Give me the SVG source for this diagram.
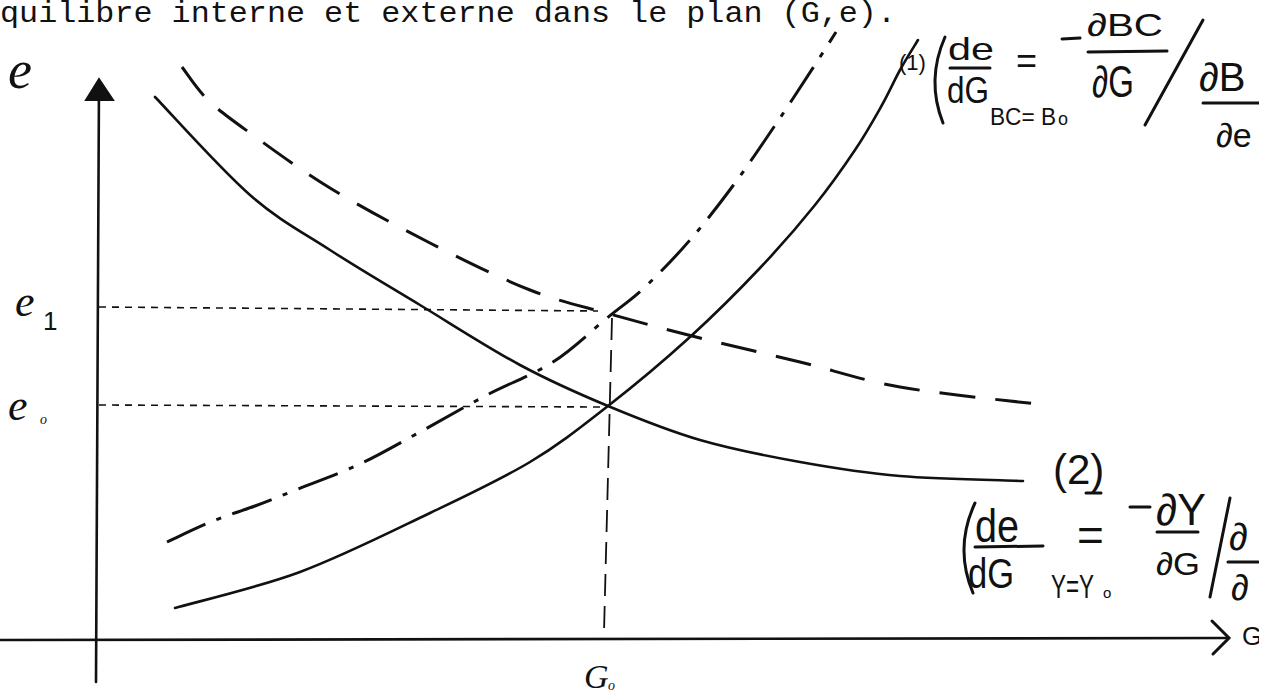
<svg xmlns="http://www.w3.org/2000/svg" width="1271" height="695" viewBox="0 0 1271 695">
<style>
.title{font-family:"Liberation Mono","DejaVu Sans Mono",monospace;font-size:29px;fill:#111}
.hw{font-family:"Liberation Sans","DejaVu Sans",sans-serif;fill:#111}
.it{font-family:"Liberation Serif","DejaVu Serif",serif;font-style:italic;fill:#111}
.axis{stroke:#111;stroke-width:2.6;fill:none;stroke-linecap:round}
.curve{stroke:#111;stroke-width:2.6;fill:none;stroke-linecap:round}
.dashed{stroke:#111;stroke-width:3;fill:none;stroke-dasharray:36 20}
.dashdot{stroke:#111;stroke-width:3;fill:none;stroke-dasharray:42 12 5 12}
.guide{stroke:#111;stroke-width:1.6;fill:none;stroke-dasharray:7 6}
.vguide{stroke:#111;stroke-width:1.8;fill:none;stroke-dasharray:22 10}
.pen{stroke:#111;stroke-width:3;fill:none;stroke-linecap:round}
</style>
<defs><clipPath id="edge"><rect x="0" y="0" width="1259" height="695"/></clipPath></defs>
<rect width="1271" height="695" fill="#fff"/>
<text class="title" x="0" y="22" textLength="896" lengthAdjust="spacingAndGlyphs">quilibre interne et externe dans le plan (G,e).</text>

<g id="axes">
<path class="axis" d="M99,82 L96,682"/>
<path d="M86,100 L99,79 L113,100 Z" fill="#111" stroke="#111" stroke-width="2"/>
<path class="axis" d="M0,640 L1228,638"/>
<path class="pen" d="M1212,621 L1229,638 L1213,654"/>
<text class="it" x="8" y="88" font-size="54">e</text>
<text class="hw" x="1242" y="645" font-size="26" clip-path="url(#edge)">G</text>
</g>

<g id="guides">
<path class="guide" d="M99,307 L598,311"/>
<path class="guide" d="M99,405 L605,407"/>
<path class="vguide" d="M612,318 L604,632"/>
</g>

<g id="labels">
<text class="it" x="15" y="316" font-size="44">e</text>
<text class="hw" x="43" y="330" font-size="26">1</text>
<text class="it" x="8" y="420" font-size="44">e</text>
<text class="it" x="40" y="424" font-size="14">o</text>
<text class="it" x="584" y="688" font-size="34">G</text>
<text class="it" x="608" y="690" font-size="14">o</text>
</g>

<g id="connectors">
<path id="curve-2" class="curve" d="M155,97 C170.8,113.3 220.8,169.5 250,195 C279.2,220.5 301.7,231.7 330,250 C358.3,268.3 388.3,285.8 420,305 C451.7,324.2 488.7,348.2 520,365 C551.3,381.8 578,393.5 608,406 C638,418.5 668,430.7 700,440 C732,449.3 766.7,456 800,462 C833.3,468 862.8,472.8 900,476 C937.2,479.2 1002.5,480.2 1023,481"/>
<path id="curve-1" class="curve" d="M175,608 C195.8,602 257.5,587.8 300,572 C342.5,556.2 391.7,531.3 430,513 C468.3,494.7 500.3,479.8 530,462 C559.7,444.2 581.3,426.8 608,406 C634.7,385.2 664.7,360 690,337 C715.3,314 739.2,290 760,268 C780.8,246 799.2,224.7 815,205 C830.8,185.3 843.8,166.7 855,150 C866.2,133.3 874.5,118.3 882,105 C889.5,91.7 894,80.8 900,70 C906,59.2 915,45 918,40"/>
<path id="curve-dashed" class="dashed" d="M182,67 C186.3,72.5 196.7,89 208,100 C219.3,111 229.7,118.3 250,133 C270.3,147.7 300,169.7 330,188 C360,206.3 396.7,226 430,243 C463.3,260 500,278.2 530,290 C560,301.8 581.7,306 610,314 C638.3,322 668.3,330 700,338 C731.7,346 766.7,353.8 800,362 C833.3,370.2 860.5,380 900,387 C939.5,394 1014.2,401.2 1037,404"/>
<path id="curve-dashdot" class="dashdot" d="M167,542 C174.7,538.5 198.3,527 213,521 C227.7,515 240.8,511.3 255,506 C269.2,500.7 280.5,496 298,489 C315.5,482 339.7,473.5 360,464 C380.3,454.5 399.2,443.3 420,432 C440.8,420.7 462.8,407.7 485,396 C507.2,384.3 532.7,375 553,362 C573.3,349 591.7,330.5 607,318 C622.3,305.5 631.2,300 645,287 C658.8,274 675,257.3 690,240 C705,222.7 720,203.3 735,183 C750,162.7 765.8,139 780,118 C794.2,97 810.7,71.3 820,57 C829.3,42.7 833.3,36.2 836,32"/>
</g>

<g id="formula-1" clip-path="url(#edge)">
<text class="hw" x="899" y="70" font-size="22">(1)</text>
<path class="pen" d="M945,37 Q926,80 943,123"/>
<text class="hw" x="948" y="60" font-size="32" textLength="46" lengthAdjust="spacingAndGlyphs">de</text>
<path class="pen" d="M950,68 L990,68"/>
<text class="hw" x="947" y="103" font-size="36" textLength="42" lengthAdjust="spacingAndGlyphs">dG</text>
<text class="hw" x="990" y="125" font-size="24" textLength="66" lengthAdjust="spacingAndGlyphs">BC= B</text>
<text class="hw" x="1058" y="125" font-size="18">o</text>
<text class="hw" x="1016" y="73" font-size="36">=</text>
<path class="pen" d="M1062,39 L1080,38"/>
<text class="hw" x="1087" y="36" font-size="32" textLength="76" lengthAdjust="spacingAndGlyphs">∂BC</text>
<path class="pen" d="M1088,52 L1167,51"/>
<text class="hw" x="1092" y="97" font-size="44" textLength="42" lengthAdjust="spacingAndGlyphs">∂G</text>
<path class="pen" d="M1203,20 L1145,125"/>
<text class="hw" x="1199" y="91" font-size="40">∂B</text>
<path class="pen" d="M1203,103 L1265,103"/>
<text class="hw" x="1216" y="147" font-size="34">∂e</text>
</g>

<g id="formula-2" clip-path="url(#edge)">
<text class="hw" x="1053" y="484" font-size="42">(2)</text>
<path class="pen" d="M1086,493 L1101,493" stroke-width="2"/>
<path class="pen" d="M975,503 Q954,548 973,593"/>
<text class="hw" x="975" y="542" font-size="46" textLength="44" lengthAdjust="spacingAndGlyphs">de</text>
<path class="pen" d="M975,547 L1043,546"/>
<text class="hw" x="968" y="588" font-size="42" textLength="46" lengthAdjust="spacingAndGlyphs">dG</text>
<text class="hw" x="1077" y="551" font-size="46">=</text>
<text class="hw" transform="translate(1051,598) scale(0.66,1)" font-size="34">Y=Y</text>
<text class="hw" x="1103" y="598" font-size="15">o</text>
<path class="pen" d="M1130,507 L1150,507"/>
<text class="hw" x="1156" y="525" font-size="44" textLength="50" lengthAdjust="spacingAndGlyphs">∂Y</text>
<path class="pen" d="M1157,532 L1198,532"/>
<text class="hw" x="1156" y="575" font-size="32" textLength="44" lengthAdjust="spacingAndGlyphs">∂G</text>
<path class="pen" d="M1230,498 L1210,597"/>
<text class="hw" x="1229" y="550" font-size="38">∂</text>
<path class="pen" d="M1228,562 L1258,562"/>
<text class="hw" x="1231" y="600" font-size="36">∂</text>
</g>
</svg>
